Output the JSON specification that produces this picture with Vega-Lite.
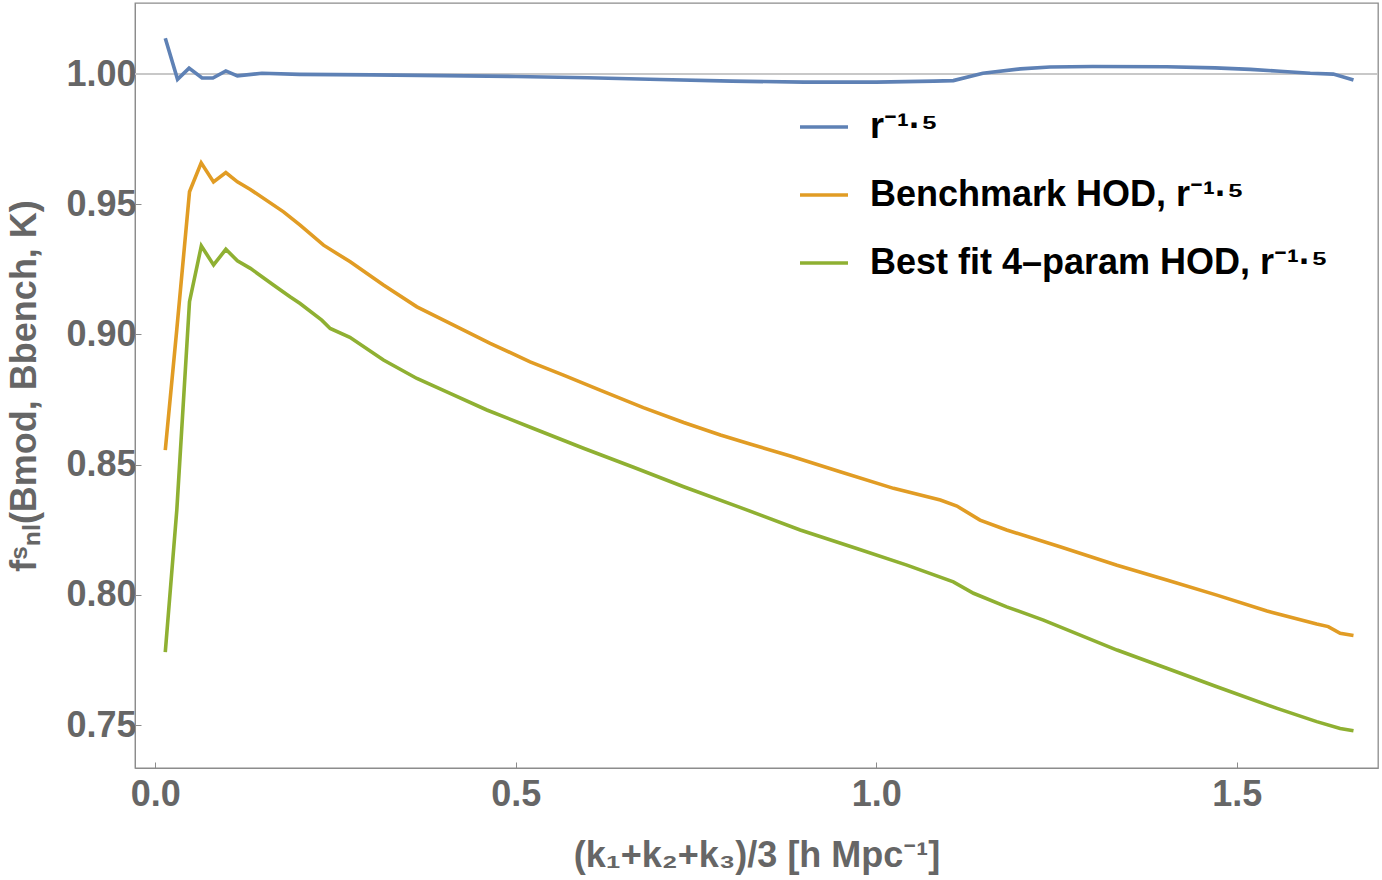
{
  "$schema": "https://vega.github.io/schema/vega-lite/v6.json",
  "description": "Non-linear bispectrum ratio for three HOD models",
  "autosize": "none",
  "width": 1243,
  "height": 765,
  "padding": {"left": 135, "top": 3, "right": 4, "bottom": 112},
  "background": "white",
  "config": {
    "view": {"stroke": "#8c8c8c", "strokeWidth": 1.3},
    "axis": {
      "labelFont": "Liberation Sans",
      "labelFontWeight": "bold",
      "labelFontSize": 36,
      "labelColor": "#666666",
      "titleFont": "Liberation Sans, Noto Sans",
      "titleFontWeight": "bold",
      "titleFontSize": 36,
      "titleColor": "#666666",
      "domainColor": "#8c8c8c",
      "tickColor": "#8c8c8c",
      "grid": false
    }
  },
  "datasets": {
    "curves": [
      {"k": 0.014, "f": 1.0138, "model": "r⁻¹·⁵"},
      {"k": 0.031, "f": 0.998, "model": "r⁻¹·⁵"},
      {"k": 0.047, "f": 1.0023, "model": "r⁻¹·⁵"},
      {"k": 0.065, "f": 0.9985, "model": "r⁻¹·⁵"},
      {"k": 0.080, "f": 0.9985, "model": "r⁻¹·⁵"},
      {"k": 0.098, "f": 1.0012, "model": "r⁻¹·⁵"},
      {"k": 0.114, "f": 0.9993, "model": "r⁻¹·⁵"},
      {"k": 0.148, "f": 1.0003, "model": "r⁻¹·⁵"},
      {"k": 0.2, "f": 0.9999, "model": "r⁻¹·⁵"},
      {"k": 0.3, "f": 0.9997, "model": "r⁻¹·⁵"},
      {"k": 0.4, "f": 0.9994, "model": "r⁻¹·⁵"},
      {"k": 0.5, "f": 0.9991, "model": "r⁻¹·⁵"},
      {"k": 0.6, "f": 0.9986, "model": "r⁻¹·⁵"},
      {"k": 0.7, "f": 0.9979, "model": "r⁻¹·⁵"},
      {"k": 0.8, "f": 0.9973, "model": "r⁻¹·⁵"},
      {"k": 0.9, "f": 0.9969, "model": "r⁻¹·⁵"},
      {"k": 1.0, "f": 0.9969, "model": "r⁻¹·⁵"},
      {"k": 1.08, "f": 0.9973, "model": "r⁻¹·⁵"},
      {"k": 1.107, "f": 0.9975, "model": "r⁻¹·⁵"},
      {"k": 1.148, "f": 1.0003, "model": "r⁻¹·⁵"},
      {"k": 1.2, "f": 1.002, "model": "r⁻¹·⁵"},
      {"k": 1.241, "f": 1.0027, "model": "r⁻¹·⁵"},
      {"k": 1.3, "f": 1.0029, "model": "r⁻¹·⁵"},
      {"k": 1.403, "f": 1.0028, "model": "r⁻¹·⁵"},
      {"k": 1.47, "f": 1.0024, "model": "r⁻¹·⁵"},
      {"k": 1.519, "f": 1.0018, "model": "r⁻¹·⁵"},
      {"k": 1.56, "f": 1.0011, "model": "r⁻¹·⁵"},
      {"k": 1.602, "f": 1.0003, "model": "r⁻¹·⁵"},
      {"k": 1.634, "f": 1.0, "model": "r⁻¹·⁵"},
      {"k": 1.662, "f": 0.9977, "model": "r⁻¹·⁵"},

      {"k": 0.014, "f": 0.8556, "model": "Benchmark HOD, r⁻¹·⁵"},
      {"k": 0.030, "f": 0.902, "model": "Benchmark HOD, r⁻¹·⁵"},
      {"k": 0.0476, "f": 0.9548, "model": "Benchmark HOD, r⁻¹·⁵"},
      {"k": 0.0638, "f": 0.9659, "model": "Benchmark HOD, r⁻¹·⁵"},
      {"k": 0.0809, "f": 0.9586, "model": "Benchmark HOD, r⁻¹·⁵"},
      {"k": 0.098, "f": 0.9622, "model": "Benchmark HOD, r⁻¹·⁵"},
      {"k": 0.114, "f": 0.9586, "model": "Benchmark HOD, r⁻¹·⁵"},
      {"k": 0.132, "f": 0.9557, "model": "Benchmark HOD, r⁻¹·⁵"},
      {"k": 0.178, "f": 0.9471, "model": "Benchmark HOD, r⁻¹·⁵"},
      {"k": 0.201, "f": 0.942, "model": "Benchmark HOD, r⁻¹·⁵"},
      {"k": 0.2335, "f": 0.9343, "model": "Benchmark HOD, r⁻¹·⁵"},
      {"k": 0.2705, "f": 0.9279, "model": "Benchmark HOD, r⁻¹·⁵"},
      {"k": 0.3166, "f": 0.919, "model": "Benchmark HOD, r⁻¹·⁵"},
      {"k": 0.363, "f": 0.9106, "model": "Benchmark HOD, r⁻¹·⁵"},
      {"k": 0.409, "f": 0.9043, "model": "Benchmark HOD, r⁻¹·⁵"},
      {"k": 0.4646, "f": 0.8966, "model": "Benchmark HOD, r⁻¹·⁵"},
      {"k": 0.52, "f": 0.8895, "model": "Benchmark HOD, r⁻¹·⁵"},
      {"k": 0.5663, "f": 0.8844, "model": "Benchmark HOD, r⁻¹·⁵"},
      {"k": 0.617, "f": 0.8786, "model": "Benchmark HOD, r⁻¹·⁵"},
      {"k": 0.677, "f": 0.8719, "model": "Benchmark HOD, r⁻¹·⁵"},
      {"k": 0.733, "f": 0.8662, "model": "Benchmark HOD, r⁻¹·⁵"},
      {"k": 0.784, "f": 0.8614, "model": "Benchmark HOD, r⁻¹·⁵"},
      {"k": 0.825, "f": 0.8579, "model": "Benchmark HOD, r⁻¹·⁵"},
      {"k": 0.881, "f": 0.8533, "model": "Benchmark HOD, r⁻¹·⁵"},
      {"k": 0.95, "f": 0.8473, "model": "Benchmark HOD, r⁻¹·⁵"},
      {"k": 1.024, "f": 0.8409, "model": "Benchmark HOD, r⁻¹·⁵"},
      {"k": 1.089, "f": 0.8364, "model": "Benchmark HOD, r⁻¹·⁵"},
      {"k": 1.112, "f": 0.8341, "model": "Benchmark HOD, r⁻¹·⁵"},
      {"k": 1.144, "f": 0.8287, "model": "Benchmark HOD, r⁻¹·⁵"},
      {"k": 1.181, "f": 0.8249, "model": "Benchmark HOD, r⁻¹·⁵"},
      {"k": 1.255, "f": 0.8185, "model": "Benchmark HOD, r⁻¹·⁵"},
      {"k": 1.334, "f": 0.8114, "model": "Benchmark HOD, r⁻¹·⁵"},
      {"k": 1.403, "f": 0.8057, "model": "Benchmark HOD, r⁻¹·⁵"},
      {"k": 1.4725, "f": 0.7999, "model": "Benchmark HOD, r⁻¹·⁵"},
      {"k": 1.542, "f": 0.7938, "model": "Benchmark HOD, r⁻¹·⁵"},
      {"k": 1.611, "f": 0.7888, "model": "Benchmark HOD, r⁻¹·⁵"},
      {"k": 1.627, "f": 0.7878, "model": "Benchmark HOD, r⁻¹·⁵"},
      {"k": 1.6435, "f": 0.7852, "model": "Benchmark HOD, r⁻¹·⁵"},
      {"k": 1.662, "f": 0.7844, "model": "Benchmark HOD, r⁻¹·⁵"},

      {"k": 0.014, "f": 0.778, "model": "Best fit 4–param HOD, r⁻¹·⁵"},
      {"k": 0.030, "f": 0.8326, "model": "Best fit 4–param HOD, r⁻¹·⁵"},
      {"k": 0.0476, "f": 0.9126, "model": "Best fit 4–param HOD, r⁻¹·⁵"},
      {"k": 0.064, "f": 0.934, "model": "Best fit 4–param HOD, r⁻¹·⁵"},
      {"k": 0.081, "f": 0.9267, "model": "Best fit 4–param HOD, r⁻¹·⁵"},
      {"k": 0.098, "f": 0.9327, "model": "Best fit 4–param HOD, r⁻¹·⁵"},
      {"k": 0.114, "f": 0.9283, "model": "Best fit 4–param HOD, r⁻¹·⁵"},
      {"k": 0.132, "f": 0.9254, "model": "Best fit 4–param HOD, r⁻¹·⁵"},
      {"k": 0.164, "f": 0.919, "model": "Best fit 4–param HOD, r⁻¹·⁵"},
      {"k": 0.187, "f": 0.9145, "model": "Best fit 4–param HOD, r⁻¹·⁵"},
      {"k": 0.201, "f": 0.9119, "model": "Best fit 4–param HOD, r⁻¹·⁵"},
      {"k": 0.231, "f": 0.9055, "model": "Best fit 4–param HOD, r⁻¹·⁵"},
      {"k": 0.2427, "f": 0.9023, "model": "Best fit 4–param HOD, r⁻¹·⁵"},
      {"k": 0.27, "f": 0.8989, "model": "Best fit 4–param HOD, r⁻¹·⁵"},
      {"k": 0.3166, "f": 0.8902, "model": "Best fit 4–param HOD, r⁻¹·⁵"},
      {"k": 0.363, "f": 0.8831, "model": "Best fit 4–param HOD, r⁻¹·⁵"},
      {"k": 0.409, "f": 0.8774, "model": "Best fit 4–param HOD, r⁻¹·⁵"},
      {"k": 0.46, "f": 0.871, "model": "Best fit 4–param HOD, r⁻¹·⁵"},
      {"k": 0.5247, "f": 0.8639, "model": "Best fit 4–param HOD, r⁻¹·⁵"},
      {"k": 0.594, "f": 0.8563, "model": "Best fit 4–param HOD, r⁻¹·⁵"},
      {"k": 0.6634, "f": 0.849, "model": "Best fit 4–param HOD, r⁻¹·⁵"},
      {"k": 0.733, "f": 0.8415, "model": "Best fit 4–param HOD, r⁻¹·⁵"},
      {"k": 0.811, "f": 0.8336, "model": "Best fit 4–param HOD, r⁻¹·⁵"},
      {"k": 0.8946, "f": 0.8249, "model": "Best fit 4–param HOD, r⁻¹·⁵"},
      {"k": 0.973, "f": 0.8178, "model": "Best fit 4–param HOD, r⁻¹·⁵"},
      {"k": 1.0426, "f": 0.8114, "model": "Best fit 4–param HOD, r⁻¹·⁵"},
      {"k": 1.107, "f": 0.805, "model": "Best fit 4–param HOD, r⁻¹·⁵"},
      {"k": 1.135, "f": 0.8006, "model": "Best fit 4–param HOD, r⁻¹·⁵"},
      {"k": 1.181, "f": 0.7954, "model": "Best fit 4–param HOD, r⁻¹·⁵"},
      {"k": 1.232, "f": 0.7903, "model": "Best fit 4–param HOD, r⁻¹·⁵"},
      {"k": 1.334, "f": 0.7788, "model": "Best fit 4–param HOD, r⁻¹·⁵"},
      {"k": 1.403, "f": 0.7718, "model": "Best fit 4–param HOD, r⁻¹·⁵"},
      {"k": 1.4725, "f": 0.7647, "model": "Best fit 4–param HOD, r⁻¹·⁵"},
      {"k": 1.556, "f": 0.7564, "model": "Best fit 4–param HOD, r⁻¹·⁵"},
      {"k": 1.611, "f": 0.7513, "model": "Best fit 4–param HOD, r⁻¹·⁵"},
      {"k": 1.6435, "f": 0.7487, "model": "Best fit 4–param HOD, r⁻¹·⁵"},
      {"k": 1.662, "f": 0.7478, "model": "Best fit 4–param HOD, r⁻¹·⁵"}
    ],
    "reference": [{"level": 1.0}]
  },
  "layer": [
    {
      "data": {"name": "reference"},
      "mark": {"type": "rule", "color": "#c8c8c8", "strokeWidth": 2},
      "encoding": {
        "y": {"field": "level", "type": "quantitative", "scale": {"domain": [0.7335, 1.0273], "nice": false, "zero": false}}
      }
    },
    {
      "data": {"name": "curves"},
      "mark": {"type": "line", "strokeWidth": 3.6, "clip": true},
      "encoding": {
        "x": {
          "field": "k",
          "type": "quantitative",
          "scale": {"domain": [-0.028, 1.696], "nice": false, "zero": false},
          "axis": {
            "title": "(k₁+k₂+k₃)/3 [h Mpc⁻¹]",
            "values": [0, 0.5, 1.0, 1.5],
            "format": ".1f",
            "tickSize": -6,
            "labelPadding": 15,
            "titlePadding": 26
          }
        },
        "y": {
          "field": "f",
          "type": "quantitative",
          "scale": {"domain": [0.7335, 1.0273], "nice": false, "zero": false},
          "axis": {
            "title": "fˢₙₗ(Bmod, Bbench, K)",
            "values": [0.75, 0.8, 0.85, 0.9, 0.95, 1.0],
            "format": ".2f",
            "tickSize": -6,
            "labelPadding": 5,
            "titlePadding": 22
          }
        },
        "color": {
          "field": "model",
          "type": "nominal",
          "sort": ["r⁻¹·⁵", "Benchmark HOD, r⁻¹·⁵", "Best fit 4–param HOD, r⁻¹·⁵"],
          "scale": {
            "domain": ["r⁻¹·⁵", "Benchmark HOD, r⁻¹·⁵", "Best fit 4–param HOD, r⁻¹·⁵"],
            "range": ["#5e81b5", "#e19c24", "#8fb032"]
          },
          "legend": {
            "title": null,
            "orient": "none",
            "legendX": 663,
            "legendY": 98,
            "symbolType": "stroke",
            "symbolSize": 2304,
            "symbolStrokeWidth": 3.6,
            "labelFont": "Liberation Sans, Noto Sans",
            "labelFontWeight": "bold",
            "labelFontSize": 36,
            "labelColor": "#000000",
            "labelOffset": 20,
            "labelLimit": 600,
            "rowPadding": 24
          }
        }
      }
    }
  ]
}
